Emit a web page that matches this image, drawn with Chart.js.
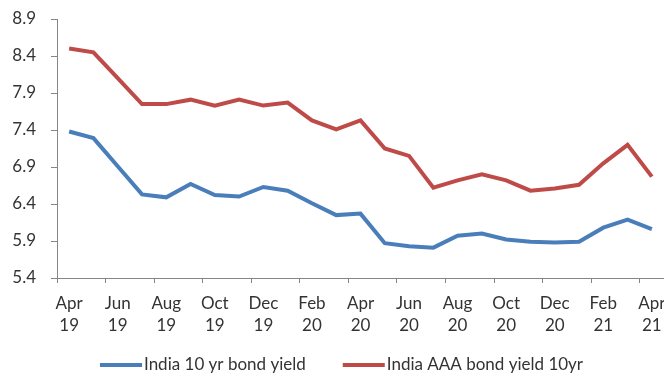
<!DOCTYPE html>
<html>
<head>
<meta charset="utf-8">
<script src="https://cdn.jsdelivr.net/npm/chart.js@4/dist/chart.umd.min.js"></script>
<style>
  html, body { margin: 0; padding: 0; background: #ffffff; }
  #wrap { width: 664px; height: 379px; }
</style>
</head>
<body>
<div id="wrap"><canvas id="c" width="664" height="379"></canvas></div>
<script>
const categories = ['Apr 19','May 19','Jun 19','Jul 19','Aug 19','Sep 19','Oct 19','Nov 19','Dec 19','Jan 20','Feb 20','Mar 20',
                    'Apr 20','May 20','Jun 20','Jul 20','Aug 20','Sep 20','Oct 20','Nov 20','Dec 20','Jan 21','Feb 21','Mar 21','Apr 21'];
const india10yBondYield = [7.38, 7.29, 6.91, 6.53, 6.49, 6.67, 6.52, 6.50, 6.63, 6.58, 6.41, 6.25,
                           6.27, 5.87, 5.83, 5.81, 5.97, 6.00, 5.92, 5.89, 5.88, 5.89, 6.08, 6.19, 6.06];
const indiaAAABondYield10yr = [8.50, 8.45, 8.10, 7.75, 7.75, 7.81, 7.73, 7.81, 7.73, 7.77, 7.53, 7.41,
                               7.53, 7.15, 7.05, 6.62, 6.72, 6.80, 6.72, 6.58, 6.61, 6.66, 6.95, 7.20, 6.77];
const yTickMin = 5.4, yTickMax = 8.9, yTickStep = 0.5;
const seriesNames = ['India 10 yr bond yield', 'India AAA bond yield 10yr'];

const blue = '#4A7EBB', red = '#BE4B48', axisGray = '#868686', textColor = '#333333';
const fontFamily = 'Lato, "Open Sans", sans-serif';
const font = { family: fontFamily, size: 17 };

// Excel-style legend: short thick line sample directly followed by the text
const excelLegend = {
  id: 'excelLegend',
  afterDraw(chart) {
    const ctx = chart.ctx;
    ctx.save();
    ctx.font = '17px ' + fontFamily;
    ctx.textBaseline = 'middle';
    ctx.textAlign = 'left';
    const sampleW = 42, sampleH = 4, textGap = 2, itemGap = 37, y = 365;
    const items = chart.data.datasets.map(d => ({ label: d.label, color: d.borderColor, w: ctx.measureText(d.label).width }));
    const total = items.reduce((s, it) => s + sampleW + textGap + it.w, 0) + itemGap * (items.length - 1);
    let x = Math.round(chart.width / 2 + 10 - total / 2);
    items.forEach(it => {
      ctx.fillStyle = it.color;
      ctx.fillRect(x, y - sampleH / 2, sampleW, sampleH);
      x += sampleW + textGap;
      ctx.fillStyle = textColor;
      ctx.fillText(it.label, x, y);
      x += it.w + itemGap;
    });
    ctx.restore();
  }
};

new Chart(document.getElementById('c'), {
  type: 'line',
  data: {
    labels: categories,
    datasets: [
      { label: seriesNames[0], data: india10yBondYield, borderColor: blue, backgroundColor: blue,
        borderWidth: 4, pointRadius: 0, tension: 0, clip: false },
      { label: seriesNames[1], data: indiaAAABondYield10yr, borderColor: red, backgroundColor: red,
        borderWidth: 4, pointRadius: 0, tension: 0, clip: false }
    ]
  },
  plugins: [excelLegend],
  options: {
    responsive: false,
    animation: false,
    layout: { padding: { top: 19, right: 0, left: 0, bottom: 31 } },
    plugins: {
      tooltip: { enabled: false },
      legend: { display: false }
    },
    scales: {
      x: {
        type: 'category',
        offset: true,
        border: { display: true, color: axisGray, width: 1 },
        grid: {
          offset: true,
          drawOnChartArea: false,
          drawTicks: true,
          tickLength: 5,
          color: (ctx) => (ctx.index % 2 === 0 ? axisGray : 'rgba(0,0,0,0)')
        },
        ticks: {
          autoSkip: false,
          maxRotation: 0,
          minRotation: 0,
          padding: 9,
          color: textColor,
          font: { family: fontFamily, size: 17, lineHeight: 1.3 },
          callback: function (value, index) {
            if (index % 2 !== 0) return '';
            return this.getLabelForValue(value).split(' ');
          }
        },
        afterFit: (scale) => { scale.paddingLeft = 0; scale.paddingRight = 0; scale.height = 70; }
      },
      y: {
        min: yTickMin,
        max: yTickMax,
        border: { display: true, color: axisGray, width: 1 },
        grid: { drawOnChartArea: false, drawTicks: true, tickLength: 6, color: axisGray },
        ticks: {
          stepSize: yTickStep,
          padding: 15,
          color: textColor,
          font: font,
          callback: (v) => Number(v).toFixed(1)
        },
        afterFit: (scale) => { scale.width = 57; scale.paddingTop = 0; scale.paddingBottom = 0; }
      }
    }
  }
});
</script>
</body>
</html>
